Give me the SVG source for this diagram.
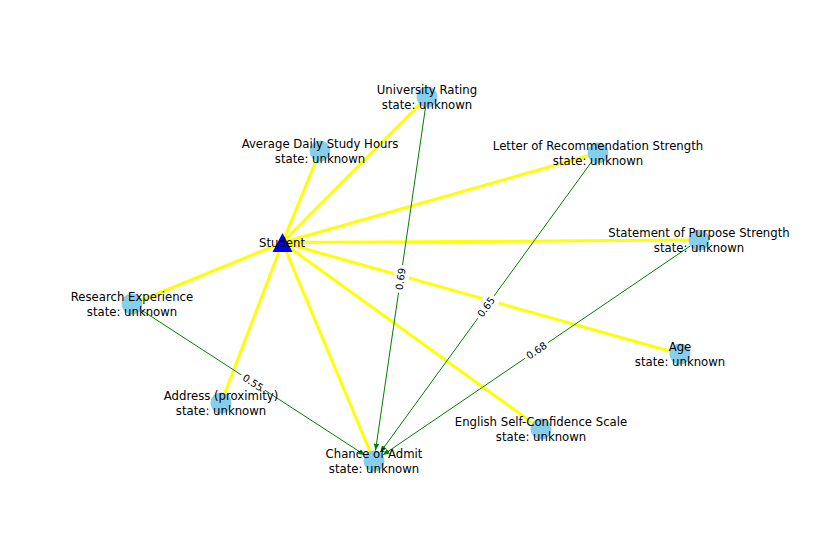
<svg xmlns="http://www.w3.org/2000/svg" width="840" height="560" viewBox="0 0 840 560">
<style>
.y{stroke:#ffff00;stroke-width:3;fill:none}
.g{stroke:#008000;stroke-width:1;fill:none;marker-end:url(#ah)}
.n{fill:#87ceeb}
text{font-family:"DejaVu Sans","Liberation Sans",sans-serif;fill:#000}
.nl{font-size:11.7px;text-anchor:middle}
.el{font-size:10px;text-anchor:middle}
.bx{fill:#fff}
</style>
<defs>
<marker id="ah" viewBox="0 0 10 8" refX="10" refY="4" markerWidth="7" markerHeight="5.6" markerUnits="userSpaceOnUse" orient="auto">
<path d="M0,0 L10,4 L0,8 Z" fill="#008000"/>
</marker>
</defs>
<rect width="840" height="560" fill="#fff"/>
<g id="edges">
<line class="y" x1="282.5" y1="242.5" x2="427" y2="97"/>
<line class="y" x1="282.5" y1="242.5" x2="320" y2="151"/>
<line class="y" x1="282.5" y1="242.5" x2="598" y2="153"/>
<line class="y" x1="282.5" y1="242.5" x2="699" y2="240"/>
<line class="y" x1="282.5" y1="242.5" x2="132" y2="304"/>
<line class="y" x1="282.5" y1="242.5" x2="680" y2="354"/>
<line class="y" x1="282.5" y1="242.5" x2="221" y2="403"/>
<line class="y" x1="282.5" y1="242.5" x2="541" y2="429"/>
<line class="y" x1="282.5" y1="242.5" x2="374" y2="461"/>
<line class="g" x1="425.5" y1="107.4" x2="375.5" y2="450.6"/>
<line class="g" x1="591.8" y1="161.5" x2="380.2" y2="452.5"/>
<line class="g" x1="690.3" y1="245.9" x2="382.7" y2="455.1"/>
<line class="g" x1="140.8" y1="309.7" x2="365.2" y2="455.3"/>
</g>
<g id="edge-labels">
<g transform="translate(400.5,279) rotate(-81.7)"><rect class="bx" x="-14" y="-8" width="28" height="16" rx="3"/><text class="el" x="0" y="3.6">0.69</text></g>
<g transform="translate(486,307) rotate(-54)"><rect class="bx" x="-14" y="-8" width="28" height="16" rx="3"/><text class="el" x="0" y="3.6">0.65</text></g>
<g transform="translate(536.5,350.5) rotate(-34.2)"><rect class="bx" x="-14" y="-8" width="28" height="16" rx="3"/><text class="el" x="0" y="3.6">0.68</text></g>
<g transform="translate(253,382.5) rotate(33)"><rect class="bx" x="-14" y="-8" width="28" height="16" rx="3"/><text class="el" x="0" y="3.6">0.55</text></g>
</g>
<g id="n-student"><path d="M282.5,233 L292.5,252 L272.5,252 Z" fill="#0000ff"/><text class="nl" x="282" y="246.8">Student</text></g>
<g id="n-ur"><circle class="n" cx="427" cy="97" r="10.5"/><text class="nl" x="427" y="94.1">University Rating</text><text class="nl" x="427" y="108.5">state: unknown</text></g>
<g id="n-adsh"><circle class="n" cx="320" cy="151" r="10.5"/><text class="nl" x="320" y="148.1">Average Daily Study Hours</text><text class="nl" x="320" y="162.5">state: unknown</text></g>
<g id="n-lor"><circle class="n" cx="598" cy="153" r="10.5"/><text class="nl" x="598" y="150.1">Letter of Recommendation Strength</text><text class="nl" x="598" y="164.5">state: unknown</text></g>
<g id="n-sop"><circle class="n" cx="699" cy="240" r="10.5"/><text class="nl" x="699" y="237.1">Statement of Purpose Strength</text><text class="nl" x="699" y="251.5">state: unknown</text></g>
<g id="n-re"><circle class="n" cx="132" cy="304" r="10.5"/><text class="nl" x="132" y="301.1">Research Experience</text><text class="nl" x="132" y="315.5">state: unknown</text></g>
<g id="n-age"><circle class="n" cx="680" cy="354" r="10.5"/><text class="nl" x="680" y="351.1">Age</text><text class="nl" x="680" y="365.5">state: unknown</text></g>
<g id="n-addr"><circle class="n" cx="221" cy="403" r="10.5"/><text class="nl" x="221" y="400.1">Address (proximity)</text><text class="nl" x="221" y="414.5">state: unknown</text></g>
<g id="n-eng"><circle class="n" cx="541" cy="429" r="10.5"/><text class="nl" x="541" y="426.1">English Self-Confidence Scale</text><text class="nl" x="541" y="440.5">state: unknown</text></g>
<g id="n-coa"><circle class="n" cx="374" cy="461" r="10.5"/><text class="nl" x="374" y="458.1">Chance of Admit</text><text class="nl" x="374" y="472.5">state: unknown</text></g>
</svg>
